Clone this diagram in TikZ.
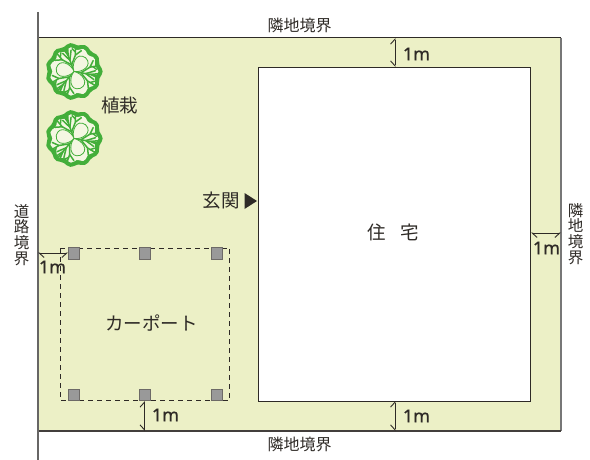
\documentclass[tikz,border=0pt]{standalone}
\usepackage{fontspec}
\setmainfont{Noto Sans CJK JP}
\newfontfamily\dimfont[FakeBold=0.7]{Noto Sans}
\usetikzlibrary{arrows.meta}
\definecolor{lot}{HTML}{ECF0C6}
\definecolor{ink}{HTML}{2E2A26}
\definecolor{treeg}{HTML}{43AE3A}
\definecolor{petal}{HTML}{F4F7E2}
\tikzset{
  lbl/.style={text=ink,font=\fontsize{18.5}{20}\selectfont,inner sep=0pt},
  slbl/.style={text=ink,font=\fontsize{16}{18}\selectfont,inner sep=0pt},
  vlbl/.style={text=ink,font=\fontsize{15.5}{15.8}\selectfont,inner sep=0pt,align=center},
  dimlbl/.style={text=ink,font=\fontsize{18}{18}\dimfont,inner sep=0pt},
  post/.style={draw=ink!70,fill=gray!80,line width=.7pt,minimum size=11.5pt,inner sep=0pt},
  harp/.style={draw=ink,line width=.9pt,{Straight Barb[harpoon,length=5pt,width=9pt]}-{Straight Barb[harpoon,swap,length=5pt,width=9pt]}},
  branch/.style={draw=treeg,line width=1.5pt,line cap=round},
  tree/.pic={
    \fill[treeg] plot[smooth cycle,samples=48,domain=0:352.5] (\x:{27.5+1.1*cos(11*\x)});
    \fill[petal] plot[smooth cycle,samples=48,domain=0:352.5] (\x:{23+1.4*cos(11*\x)});
    \foreach \a in {230,350,110}{
      \begin{scope}[rotate=\a]
      \draw[branch] (0,0) -- (24,0);
      \draw[branch] (7,0) -- (15,7) -- (23,10);
      \draw[branch] (7,0) -- (15,-7) -- (23,-10);
      \draw[branch] (12,0) -- (21,4.5);
      \draw[branch] (12,0) -- (21,-4.5);
      \draw[branch] (15,7) -- (17,14);
      \draw[branch] (15,-7) -- (17,-14);
      \draw[branch] (17,0) -- (24,2);
      \draw[branch] (17,0) -- (24,-2);
      \draw[branch] (18,8) -- (22,6);
      \draw[branch] (18,-8) -- (22,-6);
      \end{scope}
    }
    \foreach \a in {290,170,50}{
      \draw[treeg,line width=.8pt,fill=petal,rotate=\a] (0,0) .. controls (4,-7) and (17,-11) .. (18,0) .. controls (17,11) and (4,7) .. (0,0) -- cycle;
    }
  }
}
\begin{document}
\begin{tikzpicture}[x=1pt,y=-1pt]
\useasboundingbox (0,0) rectangle (590,460);
\fill[lot] (38,38) rectangle (561,431);
\draw[ink,line width=1pt] (38,38) -- (561,38);
\draw[gray!90!ink,line width=1.2pt] (561,38) -- (561,431);
\draw[ink!90,line width=1.2pt] (38,431) -- (561,431);
\draw[gray!70!ink,line width=1.2pt] (38,12) -- (38,460);
\node[draw=ink,fill=white,line width=1pt,minimum width=272pt,minimum height=333.5pt,inner sep=0pt] (house) at (394.7,234.3) {};
\node[lbl] (hl) at (393,232) {住\hspace{15pt}宅};
\node[lbl] (ent) at (221,201) {玄関};
\coordinate (t1) at (244.5,193);
\coordinate (t2) at (244.5,209);
\coordinate (t3) at (257,201);
\fill[ink] (t1) -- (t3) -- (t2) -- cycle;
\pic at (74,71.5) {tree};
\pic at (74,138.5) {tree};
\node[lbl] (plant) at (119.5,105) {植栽};
\node[slbl] (top) at (299.5,25) {隣地境界};
\node[slbl] (bot) at (299.5,444) {隣地境界};
\node[vlbl] (left) at (21.5,235) {道\\路\\境\\界};
\node[vlbl] (right) at (575.5,234) {隣\\地\\境\\界};
\draw[ink,line width=.9pt,dash pattern=on 5pt off 4pt] (60.5,248) rectangle (229.5,400.5);
\foreach \n/\x/\y in {a/74/253.5,b/145/253.5,c/217/253.5,d/74/395,e/145/395,f/217/395}{
  \node[post] (\n) at (\x,\y) {};
}
\node[lbl] (cp) at (151.5,323) {カーポート};
\coordinate (roadL) at (38,253);
\coordinate (lt) at (68,253);
\draw[harp] (roadL) -- (lt);
\node[dimlbl] at (52.5,267) {1m};
\coordinate (bb) at (144.5,431);
\coordinate (bt) at (144.5,401);
\draw[harp] (bt) -- (bb);
\node[dimlbl] at (165.5,415) {1m};
\coordinate (ht) at (395,38);
\coordinate (hth) at (395,67);
\draw[harp] (ht) -- (hth);
\node[dimlbl] at (416.5,54) {1m};
\coordinate (hb) at (395,401);
\coordinate (hbb) at (395,431);
\draw[harp] (hb) -- (hbb);
\node[dimlbl] at (416.5,416) {1m};
\coordinate (hr) at (531,233);
\coordinate (rr) at (561,233);
\draw[harp] (hr) -- (rr);
\node[dimlbl] at (546.5,248) {1m};
\end{tikzpicture}
\end{document}
